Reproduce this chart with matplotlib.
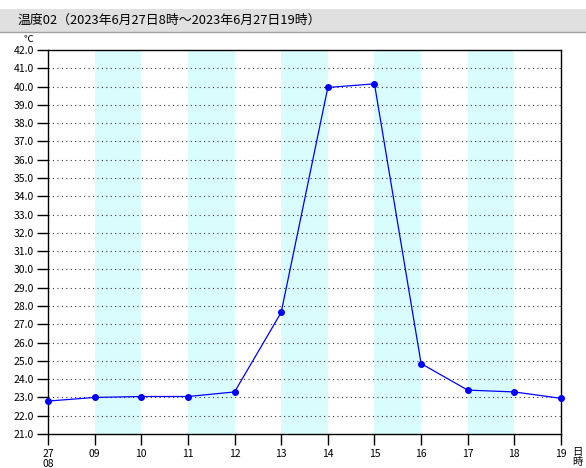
import matplotlib.pyplot as plt
from matplotlib.patches import Rectangle

plt.rcParams['font.family'] = ['Noto Sans CJK JP', 'DejaVu Sans']

hours = [8, 9, 10, 11, 12, 13, 14, 15, 16, 17, 18, 19]
temps = [22.8, 23.0, 23.05, 23.05, 23.3, 27.65, 39.95, 40.15, 24.85, 23.4, 23.3, 22.95]
xlabels = ['27\n08', '09', '10', '11', '12', '13', '14', '15', '16', '17', '18', '19']
bands = [(9, 10), (11, 12), (13, 14), (15, 16), (17, 18)]
yticks = list(range(21, 43))

fig = plt.figure(figsize=(5.86, 4.68), dpi=100)

# title bar
fig.patches.append(Rectangle((0, 1 - 32 / 468), 1, 23 / 468, transform=fig.transFigure,
                             facecolor='#e0e0e0', edgecolor='none', zorder=0))
fig.lines.append(plt.Line2D([0, 1], [1 - 32 / 468] * 2, transform=fig.transFigure,
                            color='#a0a0a0', lw=1))
fig.text(18 / 586, 1 - 20 / 468, '温度02（2023年6月27日8時～2023年6月27日19時）',
         fontsize=9.3, va='center', ha='left')

ax = fig.add_axes([48 / 586, 1 - 434 / 468, 513 / 586, 384 / 468])

for a, b in bands:
    ax.axvspan(a, b, color='#d9fdfd', lw=0, zorder=0)

for y in yticks[1:-1]:
    ax.axhline(y, color='#333333', ls=(0, (1, 3)), lw=0.8, zorder=1)

ax.plot(hours, temps, color='#0000ff', lw=0.9, marker='o', ms=4, zorder=3, clip_on=False)

ax.set_xlim(8, 19)
ax.set_ylim(21, 42)
ax.set_yticks(yticks)
ax.set_yticklabels([f'{v:.1f}' for v in yticks], fontsize=7.5)
ax.set_xticks(hours)
ax.set_xticklabels(xlabels, fontsize=7.5, linespacing=1.0)
ax.tick_params(axis='y', length=8, width=1, pad=2)
ax.tick_params(axis='x', length=8, width=1, pad=3)
for s in ax.spines.values():
    s.set_linewidth(1)

fig.text(28 / 586, 1 - 39 / 468, '℃', fontsize=7, ha='center', va='center')
fig.text(577 / 586, 1 - 457 / 468, '日\n時', fontsize=7.5, ha='center', va='center', linespacing=1.0)

fig.savefig('out.png', dpi=100)
